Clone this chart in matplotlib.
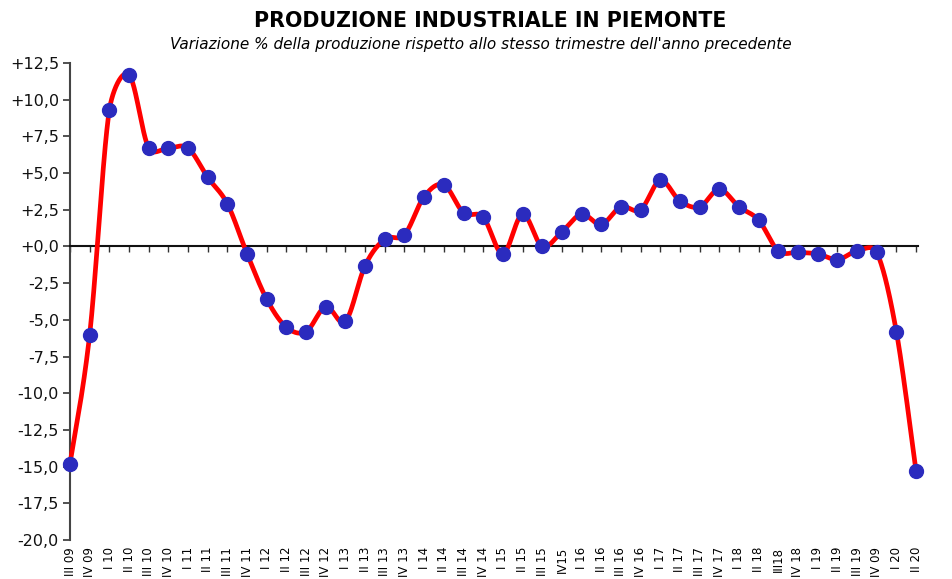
import numpy as np
import matplotlib
matplotlib.use("Agg")
import matplotlib.pyplot as plt

quarters = ["III 09", "IV 09",
            "I 10", "II 10", "III 10", "IV 10",
            "I 11", "II 11", "III 11", "IV 11",
            "I 12", "II 12", "III 12", "IV 12",
            "I 13", "II 13", "III 13", "IV 13",
            "I 14", "II 14", "III 14", "IV 14",
            "I 15", "II 15", "III 15", "IV15",
            "I 16", "II 16", "III 16", "IV 16",
            "I 17", "II 17", "III 17", "IV 17",
            "I 18", "II 18", "III18", "IV 18",
            "I 19", "II 19", "III 19", "IV 09",
            "I 20", "II 20"]

variazione = [-14.8, -6.0,
              9.3, 11.7, 6.7, 6.7,
              6.7, 4.7, 2.9, -0.5,
              -3.6, -5.5, -5.8, -4.1,
              -5.1, -1.3, 0.5, 0.8,
              3.4, 4.2, 2.3, 2.0,
              -0.5, 2.2, 0.0, 1.0,
              2.2, 1.5, 2.7, 2.5,
              4.5, 3.1, 2.7, 3.9,
              2.7, 1.8, -0.3, -0.4,
              -0.5, -0.9, -0.3, -0.4,
              -5.8, -15.3]

yticks = [12.5, 10.0, 7.5, 5.0, 2.5, 0.0, -2.5, -5.0, -7.5, -10.0,
          -12.5, -15.0, -17.5, -20.0]

x = np.arange(len(variazione), dtype=float)
y = np.array(variazione, dtype=float)

# Excel-like smoothed line: Catmull-Rom Bezier in screen-proportional space,
# with control-point offsets clamped relative to segment length
def smooth(xs, ys, sxp=19.67, syp=14.68, clamp=0.5, n=40):
    P = np.column_stack([xs * sxp, ys * syp])
    m = len(P)
    t = np.linspace(0, 1, n)[:, None]
    out = []
    for i in range(m - 1):
        p0 = P[max(i - 1, 0)]
        p1, p2 = P[i], P[i + 1]
        p3 = P[min(i + 2, m - 1)]
        L = np.hypot(*(p2 - p1))
        d1 = (p2 - p0) / 6
        d2 = (p3 - p1) / 6
        n1, n2 = np.hypot(*d1), np.hypot(*d2)
        if n1 > clamp * L:
            d1 = d1 * clamp * L / n1
        if n2 > clamp * L:
            d2 = d2 * clamp * L / n2
        c1 = p1 + d1
        c2 = p2 - d2
        B = (1 - t) ** 3 * p1 + 3 * (1 - t) ** 2 * t * c1 + 3 * (1 - t) * t ** 2 * c2 + t ** 3 * p2
        out.append(B)
    out = np.vstack(out)
    return out[:, 0] / sxp, out[:, 1] / syp

sx, sy = smooth(x, y)

fig = plt.figure(figsize=(9.52, 5.79), dpi=100)
ax = fig.add_axes([70/952, 1-540/579, (918-70)/952, (540-63)/579])

ax.plot(sx, sy, color="#FF0000", lw=3.4, solid_capstyle="round", zorder=3, clip_on=False)
ax.plot(x, y, linestyle="none", marker="o", markersize=10, color="#2B2BBE",
        markeredgecolor="#2B2BBE", zorder=4, clip_on=False)

ax.set_xlim(0, len(variazione) - 1 + 0.1)
ax.set_ylim(-20, 12.5)
ax.set_yticks(yticks)
ax.set_yticklabels([("+" if v >= 0 else "") + f"{v:.1f}".replace(".", ",") for v in yticks],
                   fontsize=11.5, color="#111111")
ax.tick_params(axis="y", direction="out", length=5, width=1.2, color="#333333", pad=3)

for s in ["top", "right"]:
    ax.spines[s].set_visible(False)
ax.spines["left"].set_linewidth(1.5)
ax.spines["left"].set_color("#444444")
ax.spines["bottom"].set_position(("data", 0))
ax.spines["bottom"].set_linewidth(1.5)
ax.spines["bottom"].set_color("#111111")
ax.set_xticks(x)
ax.tick_params(axis="x", direction="out", length=4, width=1, color="#333333", labelbottom=False)

sec = ax.secondary_xaxis("bottom")
sec.set_xticks(x)
sec.set_xticklabels(quarters, rotation=90, fontsize=8.5, va="top", ha="center")
sec.tick_params(length=0, pad=5)
sec.spines["bottom"].set_visible(False)

fig.text(0.515, 0.963, "PRODUZIONE INDUSTRIALE IN PIEMONTE", ha="center", va="center",
         fontsize=14.8, fontweight="bold")
fig.text(0.505, 0.923, "Variazione % della produzione rispetto allo stesso trimestre dell'anno precedente",
         ha="center", va="center", fontsize=11, fontstyle="italic")

fig.savefig("out.png", dpi=100)
